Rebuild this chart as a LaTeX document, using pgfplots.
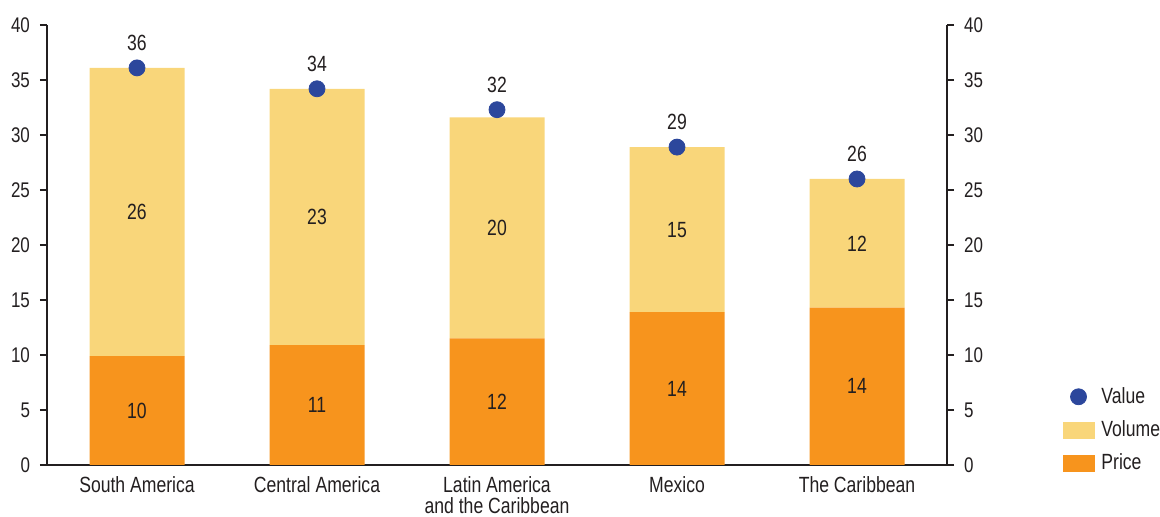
\documentclass[border=0pt]{standalone}
\usepackage{pgfplots}
\pgfplotsset{compat=1.18}
\usepackage{fontspec}
\setmainfont{Liberation Sans}[FakeStretch=0.8]
\definecolor{cPrice}{HTML}{F7941D}
\definecolor{cVol}{HTML}{F9D67A}
\definecolor{cVal}{HTML}{2C479C}
\definecolor{cTxt}{HTML}{231F20}
\newcommand{\lblfont}{\fontsize{11}{10.8}\selectfont}
\newcommand{\tickfont}{\fontsize{10.6}{12}\selectfont}
\begin{document}
\begin{tikzpicture}
\useasboundingbox (-23.5pt,-26pt) rectangle (556.5pt,232.5pt);
\pgfplotsset{
  base/.style={
    width=450pt, height=220pt, scale only axis,
    at={(0pt,0pt)}, anchor=south west,
    xmin=-0.5, xmax=4.5, ymin=0, ymax=40,
    ytick={0,5,...,40},
    tick align=outside,
    major tick length=3.5pt,
    tick style={cTxt, line width=0.6pt},
    axis line style={cTxt, line width=0.6pt},
    /pgf/number format/assume math mode=true,
    yticklabel style={font=\tickfont, text=cTxt},
  }
}
\begin{axis}[base,
    axis y line*=left, axis x line*=bottom,
    ybar stacked, bar width=47.5pt,
    xtick={0,1,2,3,4},
    xticklabels={South America, Central America, {Latin America\\and the Caribbean}, Mexico, The Caribbean},
    xticklabel style={font=\lblfont, text=cTxt, align=center, inner sep=0pt, yshift=-2pt},
    x tick style={draw=none},
    minor xtick={-0.5,0.5,...,4.5},
    minor tick length=3.5pt,
    minor x tick style={cTxt, line width=0.6pt},
    yticklabel style={xshift=-1.5pt},
  ]
  \addplot[fill=cPrice, draw=none] coordinates {(0,9.9) (1,10.9) (2,11.5) (3,13.9) (4,14.3)};
  \addplot[fill=cVol, draw=none] coordinates {(0,26.2) (1,23.3) (2,20.1) (3,15.0) (4,11.7)};
\end{axis}
\begin{axis}[base,
    axis y line*=right, hide x axis,
    yticklabel style={xshift=1.5pt},
    legend style={draw=none, fill=none, at={(1.128,-0.028)}, anchor=south west,
      font=\lblfont, text=cTxt, row sep=3.2pt, inner sep=0pt,
      /tikz/every odd column/.append style={column sep=1.5pt}},
    legend cell align=left,
  ]
  \addlegendimage{legend image code/.code={\fill[cVal] (7.75pt,0pt) circle (4pt);}}
  \addlegendentry{Value}
  \addlegendimage{legend image code/.code={\fill[cVol] (0pt,-4pt) rectangle (15.5pt,4pt);}}
  \addlegendentry{Volume}
  \addlegendimage{legend image code/.code={\fill[cPrice] (0pt,-4pt) rectangle (15.5pt,4pt);}}
  \addlegendentry{Price}
  \addplot[forget plot, only marks, mark=*, mark size=4pt, color=cVal,
    nodes near coords, point meta=explicit symbolic,
    every node near coord/.style={anchor=south, inner sep=0pt, yshift=8.5pt, font=\lblfont, text=cTxt}]
    table[meta=l] {
      x y l
      0 36.1 36
      1 34.2 34
      2 32.3 32
      3 28.9 29
      4 26.0 26
    };
  \addplot[forget plot, draw=none, mark=none,
    nodes near coords, point meta=explicit symbolic,
    every node near coord/.style={anchor=center, inner sep=0pt, font=\lblfont, text=cTxt}]
    table[meta=l] {
      x y l
      0 4.95 10
      1 5.45 11
      2 5.75 12
      3 6.95 14
      4 7.15 14
    };
  \addplot[forget plot, draw=none, mark=none,
    nodes near coords, point meta=explicit symbolic,
    every node near coord/.style={anchor=center, inner sep=0pt, font=\lblfont, text=cTxt}]
    table[meta=l] {
      x y l
      0 23.0 26
      1 22.55 23
      2 21.55 20
      3 21.4 15
      4 20.15 12
    };
\end{axis}
\end{tikzpicture}
\end{document}
